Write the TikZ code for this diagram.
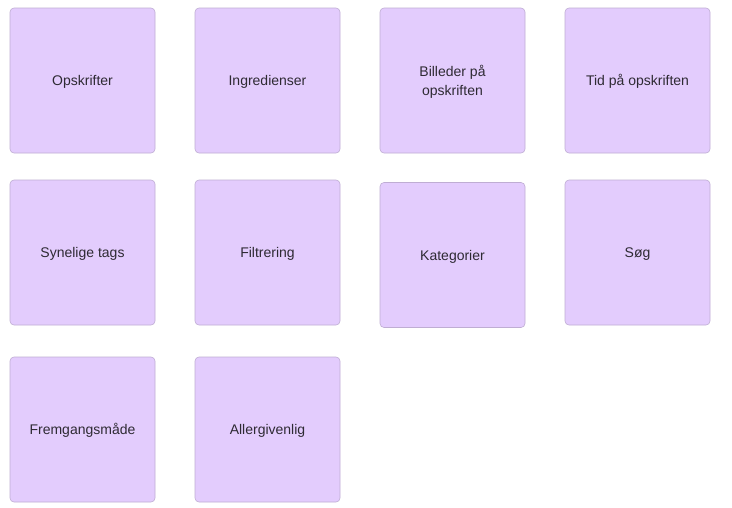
\documentclass[tikz,border=0pt]{standalone}
\usepackage{fontspec}
\setmainfont{Liberation Sans}
\definecolor{notefill}{HTML}{E3CCFD}
\definecolor{noteline}{HTML}{BFADD3}
\definecolor{notetext}{HTML}{2E2A33}

\begin{document}
\begin{tikzpicture}[
    x=1pt,
    y=-1pt,
    note/.style={
        draw=noteline,
        line width=0.6pt,
        rounded corners=4pt,
        fill=notefill,
        text=notetext,
        font=\fontsize{14}{19}\selectfont,
        align=center,
        text height=10pt,
        text depth=0pt,
        minimum width=145pt,
        minimum height=145pt,
        inner sep=2pt
    }
]
    \useasboundingbox (0,0) rectangle (732,507);

    % First row
    \node[note] (opskrifter) at (82.5,80.5) {Opskrifter};
    \node[note] (ingredienser) at (267.5,80.5) {Ingredienser};
    \node[note, text height=30pt] (billeder) at (452.5,80.5) {Billeder på\\opskriften};
    \node[note] (tid) at (637.5,80.5) {Tid på opskriften};

    % Second row
    \node[note] (tags) at (82.5,252.5) {Synelige tags};
    \node[note] (filtrering) at (267.5,252.5) {Filtrering};
    \node[note] (kategorier) at (452.5,255) {Kategorier};
    \node[note] (soeg) at (637.5,252.5) {Søg};

    % Third row
    \node[note] (fremgang) at (82.5,429.5) {Fremgangsmåde};
    \node[note] (allergi) at (267.5,429.5) {Allergivenlig};
\end{tikzpicture}
\end{document}
